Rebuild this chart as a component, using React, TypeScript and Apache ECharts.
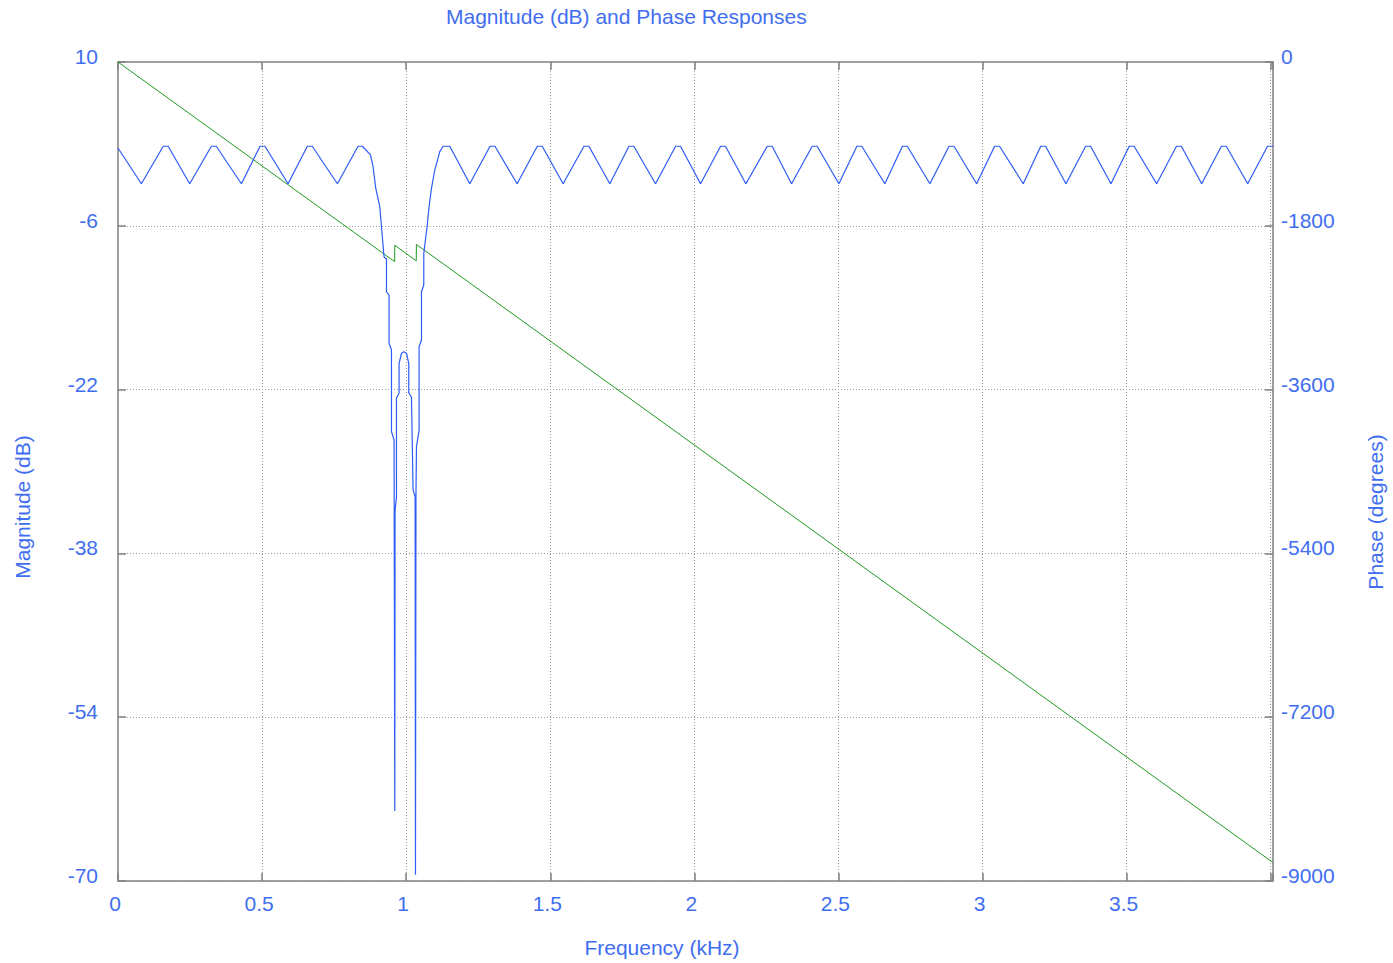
import React, { useEffect, useRef } from 'react';
import * as echarts from 'echarts';

const titleText = 'Magnitude (dB) and Phase Responses';
const xAxisName = 'Frequency (kHz)';
const leftAxisName = 'Magnitude (dB)';
const rightAxisName = 'Phase (degrees)';

// tick values
const freqTicks = [0, 0.5, 1, 1.5, 2, 2.5, 3, 3.5];
const freqMax = 4.008;
const magnitudeTicks = [-70, -54, -38, -22, -6, 10];
const phaseTicks = [-9000, -7200, -5400, -3600, -1800, 0];

// magnitude response [kHz, dB]
const passbandLow: [number, number][] = [
  [0, 1.6], [0.0812, -1.89], [0.157, 1.77], [0.174, 1.77], [0.2489, -1.89],
  [0.324, 1.77], [0.341, 1.77], [0.4283, -1.89], [0.493, 1.77], [0.51, 1.77],
  [0.5901, -1.89], [0.657, 1.77], [0.674, 1.77], [0.7615, -1.89], [0.833, 1.77],
  [0.848, 1.77],
];

const notch: [number, number][] = [
  [0.8761, 0.92], [0.8851, -0.23], [0.8945, -2.34], [0.9084, -4.13], [0.9143, -6.09],
  [0.9233, -9.05], [0.9316, -9.24], [0.9316, -12.44], [0.9406, -12.76], [0.9406, -17.48],
  [0.949, -18.13], [0.949, -26.11], [0.958, -26.92], [0.9604, -63.16], [0.9615, -33.8],
  [0.9663, -32.5], [0.9663, -22.85], [0.9754, -22.33], [0.9754, -19.43], [0.9837, -18.45],
  [0.9917, -18.3], [1.001, -18.45], [1.009, -19.43], [1.009, -22.33], [1.0184, -22.72],
  [1.0239, -31.8], [1.031, -32.46], [1.0323, -69.4], [1.034, -32.3], [1.0357, -27.58],
  [1.0448, -25.95], [1.0448, -17.81], [1.0531, -17.16], [1.0531, -12.44], [1.0611, -11.78],
  [1.0611, -8.69], [1.0725, -6.09], [1.0795, -4.13], [1.0878, -2.34], [1.0993, -0.55],
  [1.1073, 0.26], [1.1166, 1.24], [1.1281, 1.77], [1.1513, 1.77],
];

const passbandHigh: [number, number][] = [
  [1.2208, -1.89], [1.291, 1.77], [1.308, 1.77], [1.3849, -1.89], [1.455, 1.77], [1.472, 1.77],
  [1.5446, -1.89], [1.617, 1.77], [1.634, 1.77], [1.7067, -1.89], [1.773, 1.77], [1.79, 1.77],
  [1.8653, -1.89], [1.935, 1.77], [1.952, 1.77], [2.0215, -1.89], [2.091, 1.77], [2.108, 1.77],
  [2.1788, -1.89], [2.253, 1.77], [2.27, 1.77], [2.3374, -1.89], [2.409, 1.77], [2.426, 1.77],
  [2.5016, -1.89], [2.564, 1.77], [2.581, 1.77], [2.6612, -1.89], [2.722, 1.77], [2.739, 1.77],
  [2.8174, -1.89], [2.884, 1.77], [2.901, 1.77], [2.9795, -1.89], [3.042, 1.77], [3.059, 1.77],
  [3.1413, -1.89], [3.202, 1.77], [3.219, 1.77], [3.2895, -1.89], [3.358, 1.77], [3.375, 1.77],
  [3.4457, -1.89], [3.509, 1.77], [3.526, 1.77], [3.6043, -1.89], [3.673, 1.77], [3.69, 1.77],
  [3.7605, -1.89], [3.829, 1.77], [3.846, 1.77], [3.9202, -1.89], [3.989, 1.77], [4.008, 1.77],
];

// phase response [kHz, degrees]
const phase: [number, number][] = [
  [0, 0], [0.96, -2194], [0.9605, -2014], [1.035, -2185], [1.0355, -2005], [4.008, -8798],
];

const TEXT = '#3f6ef0';
const MAG = '#2d5cf6';
const PHASE = '#1e9a1e';
const BORDER = '#808080';
const GRIDLINE = '#9a9a9a';
const FONT = '"Liberation Sans", Arial, Helvetica, sans-serif';

export default function App() {
  const ref = useRef<HTMLDivElement>(null);

  useEffect(() => {
    if (!ref.current) return;
    const chart = echarts.init(ref.current, undefined, { renderer: 'svg' });
    const magnitude = [...passbandLow, ...notch, ...passbandHigh];
    const labelStyle = { color: TEXT, fontSize: 21, fontFamily: FONT };
    const tick = { show: true, inside: true, length: 8, lineStyle: { color: BORDER, width: 1.5 } };

    chart.setOption({
      animation: false,
      backgroundColor: '#ffffff',
      textStyle: { fontFamily: FONT },
      grid: {
        left: 118, top: 62, width: 1155, height: 819,
        show: true, borderColor: BORDER, borderWidth: 1.5, backgroundColor: 'transparent',
      },
      graphic: [
        { type: 'text', left: 446, top: 6, style: { text: titleText, fill: TEXT, font: `21px ${FONT}` } },
        { type: 'text', x: 662, y: 947, style: { text: xAxisName, fill: TEXT, font: `21px ${FONT}`, align: 'center', verticalAlign: 'middle' } },
        { type: 'text', x: 22, y: 507, rotation: Math.PI / 2, style: { text: leftAxisName, fill: TEXT, font: `21px ${FONT}`, align: 'center', verticalAlign: 'middle' } },
        { type: 'text', x: 1375, y: 512, rotation: Math.PI / 2, style: { text: rightAxisName, fill: TEXT, font: `21px ${FONT}`, align: 'center', verticalAlign: 'middle' } },
      ],
      xAxis: [
        {
          type: 'value', position: 'bottom',
          min: freqTicks[0], max: freqMax, interval: freqTicks[1] - freqTicks[0],
          axisLine: { show: false, onZero: false },
          axisTick: tick,
          axisLabel: {
            ...labelStyle, margin: 12, padding: [0, 6, 0, 0],
            formatter: (v: number) => (freqTicks.some((t) => Math.abs(t - v) < 1e-6) ? String(v) : ''),
          },
          splitLine: { show: true, lineStyle: { color: GRIDLINE, type: [1, 2], width: 1 } },
        },
        {
          type: 'value', position: 'top',
          min: freqTicks[0], max: freqMax, interval: freqTicks[1] - freqTicks[0],
          axisLine: { show: false, onZero: false },
          axisTick: tick,
          axisLabel: { show: false },
          splitLine: { show: false },
        },
      ],
      yAxis: [
        {
          type: 'value', position: 'left',
          min: magnitudeTicks[0], max: magnitudeTicks[magnitudeTicks.length - 1],
          interval: magnitudeTicks[1] - magnitudeTicks[0],
          axisLine: { show: false, onZero: false },
          axisTick: tick,
          axisLabel: {
            ...labelStyle, margin: 20, verticalAlign: 'bottom', lineHeight: 11,
            formatter: (v: number) => String(v),
          },
          splitLine: { show: true, lineStyle: { color: GRIDLINE, type: [1, 2], width: 1 } },
        },
        {
          type: 'value', position: 'right',
          min: phaseTicks[0], max: phaseTicks[phaseTicks.length - 1],
          interval: phaseTicks[1] - phaseTicks[0],
          axisLine: { show: false, onZero: false },
          axisTick: tick,
          axisLabel: {
            ...labelStyle, margin: 8, verticalAlign: 'bottom', lineHeight: 11,
            formatter: (v: number) => String(v),
          },
          splitLine: { show: false },
        },
      ],
      series: [
        {
          name: 'Magnitude', type: 'line', xAxisIndex: 0, yAxisIndex: 0,
          data: magnitude, showSymbol: false, symbol: 'none',
          lineStyle: { color: MAG, width: 1.2 }, clip: true, z: 3,
        },
        {
          name: 'Phase', type: 'line', xAxisIndex: 0, yAxisIndex: 1,
          data: phase, showSymbol: false, symbol: 'none',
          lineStyle: { color: PHASE, width: 1 }, clip: true, z: 2,
        },
      ],
    });
    return () => chart.dispose();
  }, []);

  return (
    <div
      ref={ref}
      style={{ position: 'fixed', left: 0, top: 0, width: 1393, height: 963, background: '#fff' }}
    />
  );
}
